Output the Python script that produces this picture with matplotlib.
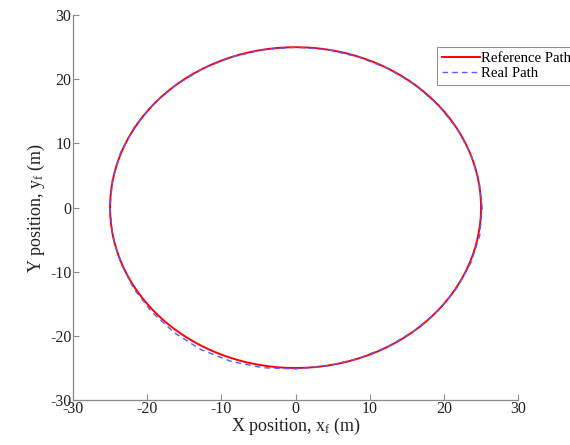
import numpy as np
import matplotlib
matplotlib.use("Agg")
import matplotlib.pyplot as plt

plt.rcParams['font.family'] = ['Liberation Serif', 'DejaVu Serif']
plt.rcParams['mathtext.fontset'] = 'custom'
plt.rcParams['mathtext.rm'] = 'Liberation Serif'
plt.rcParams['mathtext.it'] = 'Liberation Serif'
plt.rcParams['axes.unicode_minus'] = False

# Reference path: circle of radius 25 m
ref_radius = 25.0
# Real path: radius (m) read at angles (deg)
real_angles = [0, 10, 20, 30, 40, 50, 60, 70, 80, 90, 100, 110, 120, 130, 140, 150,
               160, 170, 180, 190, 200, 210, 220, 230, 240, 250, 260, 270, 280, 290,
               300, 310, 320, 330, 340, 350, 360]
real_radius = [25.15, 25.1, 25.05, 25.0, 25.0, 25.0, 25.0, 24.95, 25.0, 25.0, 25.0, 25.0,
               25.0, 25.0, 25.05, 25.1, 25.1, 25.05, 25.0, 25.05, 25.1, 25.2, 25.3, 25.45,
               25.55, 25.5, 25.35, 25.15, 25.05, 25.0, 25.0, 25.0, 25.05, 25.1, 25.15,
               25.2, 25.15]
x_ticks = [-30, -20, -10, 0, 10, 20, 30]
y_ticks = [-30, -20, -10, 0, 10, 20, 30]

fig = plt.figure(figsize=(5.7, 4.45), dpi=100)
ax = fig.add_axes([0.128, 0.101, 0.781, 0.865])

th = np.deg2rad(np.arange(0, 361, 1))
ax.plot(ref_radius * np.cos(th), ref_radius * np.sin(th), color='#ff0000', lw=1.4,
        label='Reference Path')
ra = np.deg2rad(np.array(real_angles))
rr = np.array(real_radius)
ax.plot(rr * np.cos(ra), rr * np.sin(ra), color='#5a5aff', lw=1.0, ls=(0, (4, 3)),
        label='Real Path')

ax.set_xlim(-30, 30)
ax.set_ylim(-30, 30)
ax.set_xticks(x_ticks)
ax.set_yticks(y_ticks)
for s in ['top', 'right']:
    ax.spines[s].set_visible(False)
for s in ['left', 'bottom']:
    ax.spines[s].set_color('#8a8a8a')
    ax.spines[s].set_linewidth(0.9)
ax.tick_params(direction='in', length=4, color='#8a8a8a', labelsize=11.5,
               labelcolor='#222222', pad=1)
ax.set_xlabel(r'X position, x$_{\rm f}$ (m)', fontsize=13, color='#222222', labelpad=-1)
ax.set_ylabel(r'Y position, y$_{\rm f}$ (m)', fontsize=13, color='#222222', labelpad=2)

leg = ax.legend(loc='upper left', bbox_to_anchor=(0.818, 0.917), fontsize=10.6,
                frameon=True, fancybox=False, edgecolor='#777777', borderpad=0.3,
                handlelength=2.6, handletextpad=0.1, labelspacing=0.15,
                borderaxespad=0)
leg.get_frame().set_linewidth(0.8)

fig.savefig('out.png', dpi=100)
